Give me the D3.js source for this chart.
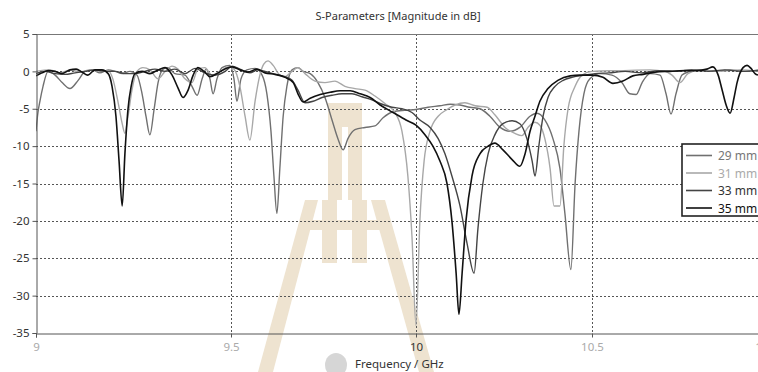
<!DOCTYPE html>
<html><head><meta charset="utf-8">
<script src="https://cdn.jsdelivr.net/npm/d3@7/dist/d3.min.js"></script>
<style>
html,body{margin:0;padding:0;background:#fff;}
svg{display:block;font-family:"Noto Sans","DejaVu Sans",sans-serif;}
</style></head>
<body><svg id="c" width="758" height="372"></svg>
<script>
const title = "S-Parameters [Magnitude in dB]";
const xLabel = "Frequency / GHz";
const xTicks = [9, 9.5, 10, 10.5, 11];
const xTickLabels = ["9", "9.5", "10", "10.5", "1"];
const yTicks = [5, 0, -5, -10, -15, -20, -25, -30, -35];
const seriesNames = ["29 mm", "31 mm", "33 mm", "35 mm"];

const s29 = [[9.000,-8],[9.005,-5.5],[9.010,-4],[9.018,-2],[9.031,0],[9.049,-0.5],[9.067,-1.5],[9.087,-2.3],[9.108,-1.2],[9.126,0],[9.144,0.2],[9.164,-0.2],[9.185,0.2],[9.203,0],[9.221,-0.3],[9.241,0],[9.259,-0.5],[9.272,-3],[9.282,-6],[9.292,-8.5],[9.303,-5],[9.313,-1.5],[9.326,0.3],[9.338,0.5],[9.356,-0.3],[9.382,-0.5],[9.400,-2],[9.413,-3.2],[9.426,-1],[9.436,0.3],[9.446,-1],[9.454,-3],[9.464,-1],[9.477,0.5],[9.497,0.8],[9.508,-1],[9.516,-4],[9.527,-1],[9.543,0.2],[9.565,0.4],[9.584,-0.5],[9.597,-3],[9.608,-8],[9.616,-14],[9.624,-19],[9.632,-13],[9.641,-6],[9.651,-2],[9.665,0.2],[9.681,0.5],[9.695,0],[9.714,-0.3],[9.735,-1.5],[9.754,-3.5],[9.773,-6.5],[9.789,-9],[9.803,-10.5],[9.816,-9],[9.835,-7.8],[9.862,-7.5],[9.889,-7.3],[9.911,-6.2],[9.938,-5.4],[9.970,-5.2],[10.0,-5.1],[10.034,-4.8],[10.068,-4.6],[10.097,-4.4],[10.125,-4.5],[10.153,-4.8],[10.182,-5],[10.210,-6],[10.239,-7.5],[10.267,-8],[10.295,-7.5],[10.324,-6],[10.344,-5.6],[10.366,-6.5],[10.389,-9],[10.409,-13],[10.423,-19],[10.440,-26.5],[10.452,-15],[10.463,-8],[10.477,-3],[10.494,-1],[10.524,-0.3],[10.560,-0.5],[10.590,-1.5],[10.614,-3],[10.633,-3.1],[10.651,-1.5],[10.675,-0.3],[10.705,-0.5],[10.723,-3],[10.738,-5.7],[10.753,-3],[10.771,-0.5],[10.795,0],[10.825,0.2],[10.870,0],[10.916,0.2],[10.961,0],[11.0,0.2]];

const s31 = [[9.0,0],[9.036,0.2],[9.062,-0.2],[9.087,0.2],[9.113,-0.1],[9.138,0.2],[9.164,0],[9.185,0.1],[9.197,-1],[9.210,-4],[9.221,-7],[9.228,-8.3],[9.236,-6],[9.246,-2.5],[9.259,0],[9.274,0.5],[9.292,0.2],[9.313,-1],[9.331,0],[9.349,0.7],[9.364,0.3],[9.382,-1],[9.400,-1.5],[9.415,0.3],[9.433,0.5],[9.451,-0.5],[9.472,0],[9.492,0.6],[9.508,0.3],[9.524,-2],[9.538,-6],[9.551,-9.2],[9.565,-4],[9.578,-0.5],[9.589,1],[9.600,1.4],[9.614,0.8],[9.632,-0.5],[9.646,-0.7],[9.665,0],[9.681,0.5],[9.700,-0.3],[9.727,-1.3],[9.754,-1.5],[9.781,-1.3],[9.808,-2],[9.835,-2.3],[9.862,-2.5],[9.889,-3.3],[9.916,-4.3],[9.943,-5.5],[9.962,-8],[9.978,-14],[9.989,-22],[10.0,-34],[10.011,-20],[10.023,-12],[10.040,-8],[10.063,-6],[10.085,-5.2],[10.111,-4.5],[10.139,-4.2],[10.168,-4.6],[10.202,-4.8],[10.224,-5.8],[10.253,-7.5],[10.281,-8.3],[10.301,-8.6],[10.318,-7.5],[10.338,-6.8],[10.352,-7.2],[10.366,-9],[10.381,-13],[10.392,-18],[10.409,-18],[10.420,-10],[10.432,-5],[10.452,-2],[10.472,-0.5],[10.5,0],[10.584,0.1],[10.675,0.2],[10.720,0],[10.741,-0.5],[10.765,-1.5],[10.789,-0.3],[10.825,0.2],[10.886,0],[10.946,0.2],[11.0,0]];

const s33 = [[9.000,-0.3],[9.023,0],[9.049,-0.3],[9.074,-0.4],[9.100,-0.2],[9.126,0],[9.151,0.2],[9.177,0],[9.203,0],[9.228,-0.3],[9.254,-0.3],[9.279,0],[9.305,0.3],[9.331,0],[9.356,0.3],[9.382,-0.3],[9.408,0.4],[9.433,-0.2],[9.459,-0.5],[9.485,0],[9.503,0.7],[9.524,0.3],[9.551,-0.2],[9.573,0.2],[9.592,0],[9.619,-0.4],[9.646,-0.7],[9.665,-1.2],[9.681,-2.5],[9.700,-4.2],[9.722,-4.0],[9.746,-3.5],[9.773,-3.2],[9.800,-3.0],[9.827,-3.0],[9.854,-3.4],[9.881,-3.8],[9.903,-4.3],[9.935,-4.8],[9.962,-5],[9.989,-5.5],[10.011,-6.5],[10.040,-7.5],[10.063,-9],[10.082,-11],[10.102,-14],[10.125,-18],[10.145,-23],[10.165,-27],[10.176,-21],[10.190,-15],[10.205,-11],[10.224,-8.5],[10.247,-7],[10.273,-6.6],[10.295,-7],[10.315,-9],[10.330,-12],[10.338,-14],[10.349,-10],[10.361,-6],[10.375,-3.5],[10.395,-2],[10.418,-1.2],[10.443,-0.8],[10.480,-0.5],[10.509,-0.3],[10.55,-0.2],[10.6,0],[10.65,-0.2],[10.7,0.1],[10.75,0],[10.8,0.2],[10.85,0],[10.9,0.2],[10.95,0],[11.0,0.1]];

const s35 = [[9.000,-0.6],[9.015,-0.2],[9.031,0.1],[9.049,0],[9.067,-0.3],[9.087,0.2],[9.103,0.3],[9.118,-0.1],[9.133,-0.5],[9.151,0.2],[9.169,0.2],[9.185,-0.3],[9.195,-2],[9.205,-6],[9.213,-12],[9.221,-18],[9.228,-11],[9.236,-5],[9.244,-2],[9.254,-0.3],[9.272,0],[9.292,-0.3],[9.313,0.2],[9.331,0.5],[9.349,-0.5],[9.364,-2.2],[9.377,-3.5],[9.390,-2.5],[9.403,-0.5],[9.415,0.5],[9.431,0],[9.446,-0.7],[9.467,-0.2],[9.487,0.4],[9.503,0.6],[9.524,0.2],[9.546,-0.1],[9.570,0.3],[9.592,-0.2],[9.619,-0.4],[9.646,-0.8],[9.668,-1.5],[9.681,-3],[9.695,-4.1],[9.714,-3.6],[9.741,-3.1],[9.768,-2.8],[9.795,-2.6],[9.822,-2.6],[9.849,-3.0],[9.876,-3.5],[9.903,-4.5],[9.938,-5.5],[9.973,-6.5],[10.000,-7.2],[10.026,-8.5],[10.048,-10],[10.068,-12],[10.088,-15],[10.102,-20],[10.114,-27],[10.122,-32.5],[10.131,-27],[10.142,-20],[10.159,-14],[10.182,-11],[10.205,-10],[10.224,-9.6],[10.247,-10.5],[10.273,-11.8],[10.295,-12.7],[10.310,-11],[10.324,-8],[10.338,-6],[10.352,-4],[10.375,-2.3],[10.403,-1.2],[10.438,-0.6],[10.466,-0.5],[10.500,-0.5],[10.533,-0.8],[10.563,-1.6],[10.593,-1.3],[10.623,-0.6],[10.654,-0.4],[10.690,-0.1],[10.735,0],[10.780,0.1],[10.816,0.1],[10.846,0.3],[10.864,0.6],[10.880,-0.5],[10.892,-2.5],[10.904,-4.5],[10.916,-5.6],[10.928,-3.5],[10.937,-1.5],[10.955,0.5],[10.967,0.8],[10.979,0.4],[10.991,-0.3],[11.0,-0.5]];

const seriesData = [s29, s31, s33, s35];
const seriesColors = ["#707070", "#a8a8a8", "#444444", "#111111"];
const legendTextColors = ["#777777", "#aaaaaa", "#333333", "#111111"];

(function () {
const svg = d3.select("#c");
const mL = 36, mR = 758, mT = 34, mB = 333;

const x = d3.scaleLinear().domain(xTicks).range([36, 231, 416, 592, 758]);
const y = d3.scaleLinear().domain([-35, 5]).range([mB, mT]);

// watermark
const wm = svg.append("g").attr("fill", "#eee3d0");
const polys = [
  [[305,200],[318,200],[273,372],[258,372]],
  [[371,200],[385,200],[434,372],[419,372]],
  [[310,220],[380,220],[380,230],[310,230]],
  [[322,200],[337,200],[337,263],[322,263]],
  [[352,200],[367,200],[367,263],[352,263]],
  [[328,103],[362,103],[362,200],[348,200],[348,127],[342,127],[342,200],[328,200]]
];
polys.forEach(p => wm.append("polygon").attr("points", p.map(d => d.join(",")).join(" ")));
svg.append("ellipse").attr("cx", 336).attr("cy", 365).attr("rx", 11).attr("ry", 12).attr("fill", "#d6d6d6");

// grid
const grid = svg.append("g").attr("stroke", "#555").attr("stroke-width", 1).attr("stroke-dasharray", "2,2");
yTicks.filter(v => v < 5 && v > -35).forEach(v => {
  grid.append("line").attr("x1", mL).attr("x2", mR).attr("y1", Math.round(y(v)) + 0.5).attr("y2", Math.round(y(v)) + 0.5);
});
[9.5, 10, 10.5].forEach(v => {
  grid.append("line").attr("y1", mT).attr("y2", mB).attr("x1", Math.round(x(v)) + 0.5).attr("x2", Math.round(x(v)) + 0.5);
});

svg.append("line").attr("x1", mL).attr("x2", mR).attr("y1", mT + 0.5).attr("y2", mT + 0.5).attr("stroke", "#777").attr("stroke-width", 1);

svg.append("clipPath").attr("id", "clip").append("rect").attr("x", mL).attr("y", mT).attr("width", mR - mL).attr("height", mB - mT);

const line = d3.line().x(d => x(d[0])).y(d => y(d[1])).curve(d3.curveMonotoneX);
const lg = svg.append("g").attr("clip-path", "url(#clip)");
seriesData.forEach((s, i) => {
  lg.append("path").attr("d", line(s)).attr("fill", "none").attr("stroke", seriesColors[i]).attr("stroke-width", i === 3 ? 1.6 : 1.4).attr("stroke-linejoin", "round");
});

const yAxis = d3.axisLeft(y).tickValues(yTicks).tickSize(4).tickPadding(3).tickFormat(d3.format("d"));
const gy = svg.append("g").attr("transform", `translate(${mL + 0.5},0)`).call(yAxis);
gy.select(".domain").attr("stroke", "#555");
gy.selectAll(".tick line").attr("stroke", "#555");
gy.selectAll(".tick text").attr("fill", "#333").attr("font-size", 11.5).attr("font-family", "Noto Sans, DejaVu Sans, sans-serif").text(d => String(d));

const xAxis = d3.axisBottom(x).tickValues(xTicks).tickSize(4).tickPadding(5).tickFormat((d, i) => xTickLabels[i]);
const gx = svg.append("g").attr("transform", `translate(0,${mB + 0.5})`).call(xAxis);
gx.select(".domain").attr("stroke", "#555");
gx.selectAll(".tick line").attr("stroke", "#555");
gx.selectAll(".tick text").attr("fill", d => d === 10 ? "#333" : "#aaa").attr("font-size", 11.5).attr("font-family", "Noto Sans, DejaVu Sans, sans-serif");

svg.append("text").attr("x", 398).attr("y", 20).attr("text-anchor", "middle").attr("font-size", 11).attr("fill", "#333").text(title);
svg.append("text").attr("x", 355).attr("y", 368).attr("font-size", 11.5).attr("fill", "#333").text(xLabel);

const leg = svg.append("g");
leg.append("rect").attr("x", 682).attr("y", 144).attr("width", 90).attr("height", 72).attr("fill", "#fff").attr("stroke", "#222").attr("stroke-width", 1.6);
seriesNames.forEach((n, i) => {
  const yy = 155.5 + i * 17.5;
  leg.append("line").attr("x1", 686).attr("x2", 712).attr("y1", yy).attr("y2", yy).attr("stroke", seriesColors[i]).attr("stroke-width", 1.6);
  leg.append("text").attr("x", 718).attr("y", yy + 4.5).attr("font-size", 12).attr("fill", legendTextColors[i]).text(n);
});
})();
</script></body></html>
